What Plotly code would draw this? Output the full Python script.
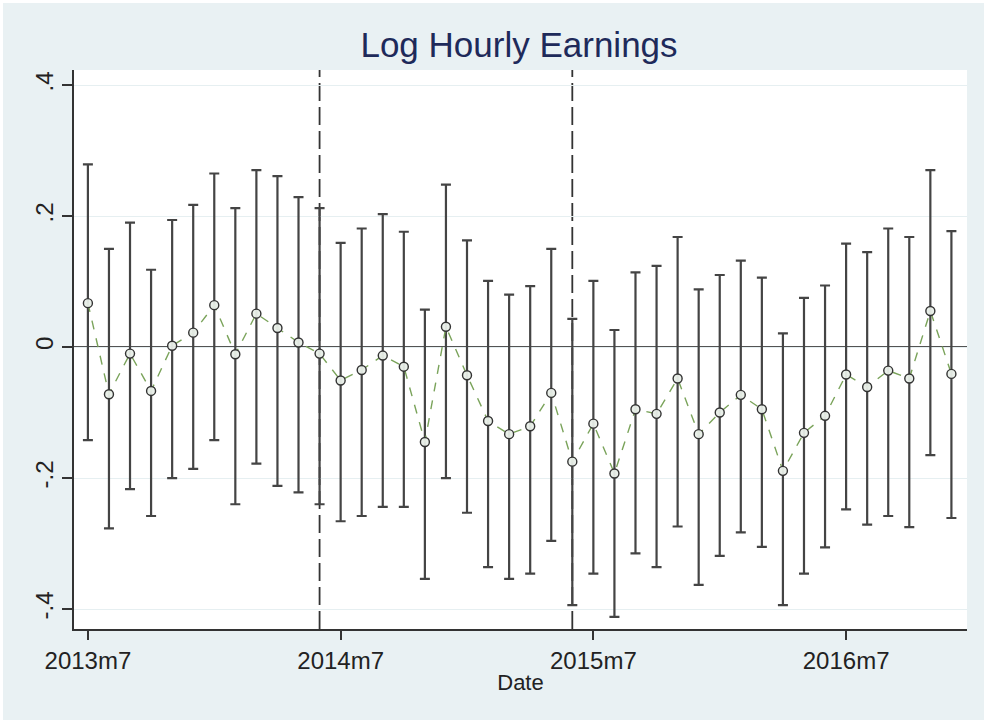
import plotly.graph_objects as go

# Months since 2013m7 (0 = 2013m7 ... 41 = 2016m12)
months = list(range(42))
tick_months = [0, 12, 24, 36]
tick_labels = ["2013m7", "2014m7", "2015m7", "2016m7"]
event_months = [11, 23]  # 2014m6, 2015m6

coef = [0.067, -0.072, -0.010, -0.067, 0.002, 0.022, 0.064,
        -0.011, 0.051, 0.029, 0.007, -0.010, -0.051, -0.035,
        -0.013, -0.030, -0.145, 0.031, -0.043, -0.113, -0.133,
        -0.121, -0.070, -0.175, -0.117, -0.193, -0.095, -0.102,
        -0.048, -0.133, -0.100, -0.073, -0.095, -0.189, -0.131,
        -0.105, -0.042, -0.061, -0.036, -0.048, 0.055, -0.041]
upper = [0.279, 0.150, 0.190, 0.118, 0.194, 0.217, 0.265,
         0.212, 0.270, 0.261, 0.229, 0.212, 0.159, 0.181,
         0.203, 0.176, 0.057, 0.248, 0.163, 0.101, 0.080,
         0.093, 0.150, 0.043, 0.101, 0.026, 0.114, 0.124,
         0.168, 0.088, 0.110, 0.132, 0.106, 0.021, 0.075,
         0.094, 0.158, 0.145, 0.181, 0.168, 0.270, 0.177]
lower = [-0.142, -0.277, -0.217, -0.258, -0.200, -0.186, -0.142,
         -0.240, -0.178, -0.212, -0.222, -0.240, -0.266, -0.258,
         -0.244, -0.244, -0.354, -0.200, -0.253, -0.336, -0.354,
         -0.346, -0.296, -0.394, -0.346, -0.412, -0.315, -0.336,
         -0.274, -0.363, -0.319, -0.283, -0.305, -0.394, -0.346,
         -0.306, -0.248, -0.271, -0.258, -0.275, -0.165, -0.261]

y_ticks = [-0.4, -0.2, 0, 0.2, 0.4]
y_tick_labels = ["-.4", "-.2", "0", ".2", ".4"]

err_plus = [u - c for u, c in zip(upper, coef)]
err_minus = [c - l for c, l in zip(coef, lower)]

FONT = "Liberation Sans, Arial, sans-serif"
BG = "#e9f1f3"

fig = go.Figure()

# Confidence intervals
fig.add_trace(go.Scatter(
    x=months, y=coef, mode="markers",
    marker=dict(size=0.1, color="rgba(0,0,0,0)"),
    error_y=dict(type="data", symmetric=False, array=err_plus, arrayminus=err_minus,
                 color="#444444", thickness=2.2, width=5),
    showlegend=False, hoverinfo="skip"))

# Point estimates with connecting line
fig.add_trace(go.Scatter(
    x=months, y=coef, mode="lines+markers",
    line=dict(color="#7aa35a", width=1.4, dash="dash"),
    marker=dict(symbol="circle", size=9, color="rgba(232,238,232,0.95)",
                line=dict(color="#333333", width=1.4)),
    showlegend=False))

shapes = [dict(type="line", xref="paper", yref="y", x0=0, x1=1, y0=0, y1=0,
               line=dict(color="#1a1a1a", width=1.8), layer="below")]
for m in event_months:
    shapes.append(dict(type="line", xref="x", yref="paper", x0=m, x1=m, y0=0, y1=1,
                       line=dict(color="#333333", width=1.8, dash="18px,6px"), layer="below"))

fig.update_layout(
    width=981, height=717,
    paper_bgcolor=BG, plot_bgcolor="white",
    margin=dict(l=71, r=17, t=67, b=91),
    title=dict(text="Log Hourly Earnings", x=0.526, xanchor="center", y=0.9414, yanchor="middle",
               font=dict(family=FONT, size=35, color="#1e2a5a")),
    font=dict(family=FONT, color="#222222"),
    shapes=shapes,
    xaxis=dict(range=[-0.66, 41.74], tickvals=tick_months, ticktext=tick_labels,
               showgrid=False, zeroline=False, showline=True, linecolor="#333333", linewidth=1.5,
               ticks="outside", ticklen=9, tickwidth=1.5, tickcolor="#333333",
               tickfont=dict(size=24, color="#222222"),
               title=dict(text="Date", font=dict(size=22, color="#222222"), standoff=2)),
    yaxis=dict(range=[-0.4305, 0.423], tickvals=y_ticks, ticktext=y_tick_labels,
               tickangle=-90, showgrid=True, gridcolor="#e6eff1", gridwidth=1,
               zeroline=False, showline=True, linecolor="#333333", linewidth=1.5,
               ticks="outside", ticklen=10, tickwidth=1.5, tickcolor="#333333",
               tickfont=dict(size=24, color="#222222")),
)

fig.write_html("out.html", post_script="document.body.style.margin='3px';")
